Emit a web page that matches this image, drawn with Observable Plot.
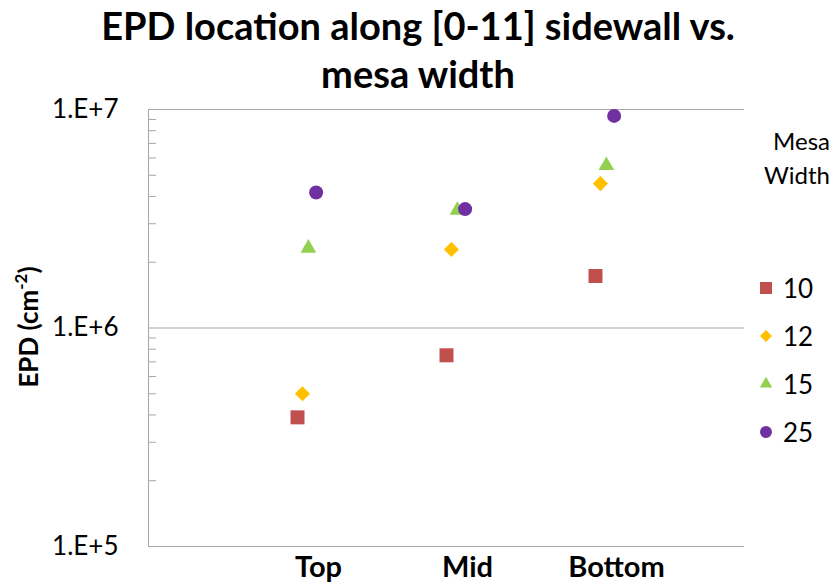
<!DOCTYPE html>
<html>
<head>
<meta charset="utf-8">
<script src="https://cdn.jsdelivr.net/npm/d3@7"></script>
<script src="https://cdn.jsdelivr.net/npm/@observablehq/plot@0.6"></script>
<style>
  body { margin: 0; background: #fff; }
  #chart { position: relative; width: 836px; height: 582px; font-family: Lato, sans-serif; color: #000; }
  #title { height: 98px; text-align: center; font-weight: 700; font-size: 38px; line-height: 48px; padding-top: 1px; box-sizing: border-box; }
  #ylabel { position: absolute; left: 28px; top: 327px; transform: translate(-50%, -50%) rotate(-90deg);
            white-space: nowrap; font-weight: 700; font-size: 26px; }
  #ylabel sup { font-size: 17px; position: relative; top: -2px; }
  #legend-title { position: absolute; right: 6px; top: 124px; text-align: right; font-size: 24px; line-height: 34px; }
  .legend-row { position: absolute; left: 757px; height: 34px; display: flex; align-items: center; font-size: 26px; }
  .legend-row svg { width: 18px; height: 18px; margin-right: 8px; }
</style>
</head>
<body>
<div id="chart">
  <div id="title">EPD location along [0-11] sidewall vs.<br>mesa width</div>
  <div id="plot"></div>
  <div id="ylabel">EPD (cm<sup>-2</sup>)</div>
  <div id="legend-title">Mesa<br>Width</div>
</div>
<script>
// Position along the sidewall
const locations = ["Top", "Mid", "Bottom"];
// Mesa widths (legend series)
const mesaWidths = [10, 12, 15, 25];
// Etch pit density (cm^-2) at Top, Mid, Bottom for each mesa width
const epdWidth10 = [3.9e5, 7.5e5, 1.73e6];
const epdWidth12 = [5.0e5, 2.29e6, 4.58e6];
const epdWidth15 = [2.32e6, 3.46e6, 5.54e6];
const epdWidth25 = [4.17e6, 3.5e6, 9.35e6];
// Axis ticks
const yTicks = [1e5, 1e6, 1e7];
const yTickLabels = ["1.E+5", "1.E+6", "1.E+7"];
const yMinorTicks = [2e5, 3e5, 4e5, 5e5, 6e5, 7e5, 8e5, 9e5, 2e6, 3e6, 4e6, 5e6, 6e6, 7e6, 8e6, 9e6];

const seriesValues = [epdWidth10, epdWidth12, epdWidth15, epdWidth25];
const rows = [];
mesaWidths.forEach((w, s) => {
  seriesValues[s].forEach((v, i) => rows.push({width: w, series: s, loc: i, epd: v}));
});

// Marker styling per series (Excel-like palette), slight horizontal stagger
const markerStyle = [
  {symbol: "square",   r: 7.9, fill: "#C0504D", shift: 0,     legendSize: 144},
  {symbol: "diamond2", r: 6.8, fill: "#FFC000", shift: 0.033, legendSize: 92},
  {symbol: "triangle", r: 5.8, fill: "#92D050", shift: 0.073, legendSize: 66},
  {symbol: "circle",   r: 7,   fill: "#7030A0", shift: 0.125, legendSize: 113}
];
const axisGray = "#a6a6a6";

const plot = Plot.plot({
  width: 836,
  height: 484,
  marginLeft: 148,
  marginRight: 92,
  marginTop: 11,
  marginBottom: 36,
  style: {fontFamily: "Lato, sans-serif", color: "#000", background: "transparent", overflow: "visible"},
  x: {domain: [0, 4], axis: null},
  y: {type: "log", domain: [1e5, 1e7], axis: null},
  marks: [
    Plot.ruleY(yMinorTicks, {x1: 0, x2: 0.054, stroke: axisGray}),
    Plot.ruleY(yTicks, {stroke: axisGray}),
    Plot.ruleX([0], {y1: 1e5, y2: 1e7, stroke: axisGray}),
    Plot.axisY({ticks: yTicks, tickFormat: (d) => yTickLabels[yTicks.indexOf(d)], tickSize: 0, tickPadding: 30, fontSize: 26, label: null}),
    Plot.axisX({ticks: [1, 2, 3], tickFormat: (d) => locations[d - 1], tickSize: 0, tickPadding: 10, fontSize: 29, fontWeight: "bold", dx: 21, label: null}),
    ...markerStyle.map((m, s) => Plot.dot(rows.filter((d) => d.series === s), {
      x: (d) => d.loc + 1 + m.shift,
      y: "epd",
      symbol: m.symbol,
      r: m.r,
      fill: m.fill,
      stroke: null
    }))
  ]
});
document.getElementById("plot").appendChild(plot);

// Legend: one row per mesa width
const chart = d3.select("#chart");
mesaWidths.forEach((w, s) => {
  const m = markerStyle[s];
  const row = chart.append("div").attr("class", "legend-row").style("top", (271 + 48 * s) + "px");
  const svg = row.append("svg").attr("viewBox", "-9 -9 18 18");
  const symType = {square: d3.symbolSquare, diamond2: d3.symbolDiamond2, triangle: d3.symbolTriangle, circle: d3.symbolCircle}[m.symbol];
  svg.append("path").attr("d", d3.symbol(symType, m.legendSize)()).attr("fill", m.fill);
  row.append("span").text(w);
});
</script>
</body>
</html>
